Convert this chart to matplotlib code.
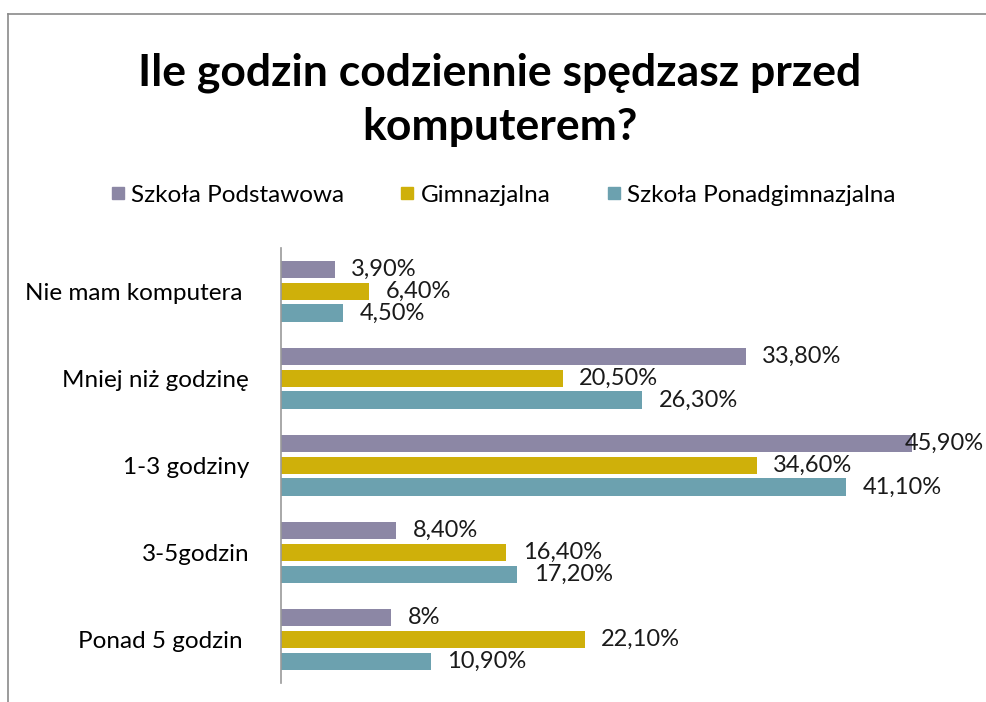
import matplotlib
matplotlib.use("Agg")
from matplotlib import pyplot as plt
from matplotlib.lines import Line2D
from matplotlib.transforms import blended_transform_factory
import numpy as np

plt.rcParams['font.family'] = ['Lato', 'DejaVu Sans']

# dane
kategorie = ["Nie mam komputera ", "Mniej niż godzinę", "1-3 godziny", "3-5godzin", "Ponad 5 godzin "]
serie = ["Szkoła Podstawowa", "Gimnazjalna", "Szkoła Ponadgimnazjalna"]
podstawowa = [3.9, 33.8, 45.9, 8.4, 8.0]
gimnazjum = [6.4, 20.5, 34.6, 16.4, 22.1]
ponadgimn = [4.5, 26.3, 41.1, 17.2, 10.9]
etykiety = [
    ["3,90%", "33,80%", "45,90%", "8,40%", "8%"],
    ["6,40%", "20,50%", "34,60%", "16,40%", "22,10%"],
    ["4,50%", "26,30%", "41,10%", "17,20%", "10,90%"],
]
kolory = ["#8C87A5", "#CFB00A", "#6CA1AF"]


def rysuj_wykres(plik="out.png"):
    fig = plt.figure(figsize=(9.86, 7.02), dpi=100)
    ax = fig.add_axes([0.285, 0.027, 0.697, 0.62])
    przy_krawedzi = blended_transform_factory(fig.transFigure, ax.transData)

    y = np.arange(len(kategorie))
    dane = [podstawowa, gimnazjum, ponadgimn]
    for i, (wart, kol) in enumerate(zip(dane, kolory)):
        pozycje = y + (i - 1) * 0.25
        ax.barh(pozycje, wart, height=0.2, color=kol, label=serie[i])
        for p, v, tekst in zip(pozycje, wart, etykiety[i]):
            if v + 1.2 < 45:
                ax.text(v + 1.2, p, tekst, va="center", ha="left", fontsize=17, color="#1a1a1a")
            else:
                # za malo miejsca - etykieta dosunieta do prawej krawedzi
                ax.text(0.998, p, tekst, va="center", ha="right", fontsize=17,
                        color="#1a1a1a", transform=przy_krawedzi, clip_on=False)

    ax.set_xlim(0, 50)
    ax.set_ylim(len(kategorie) - 0.5, -0.5)
    ax.set_yticks(y)
    ax.set_yticklabels(kategorie, fontsize=17.5)
    ax.tick_params(axis="y", length=0, pad=23)
    ax.set_xticks([])
    for s in ["top", "right", "bottom"]:
        ax.spines[s].set_visible(False)
    ax.spines["left"].set_color("#999999")
    ax.spines["left"].set_linewidth(1.2)

    fig.text(0.507, 0.858, "Ile godzin codziennie spędzasz przed\nkomputerem?",
             ha="center", va="center", fontsize=32, fontweight="bold", linespacing=1.45)

    uchwyty = [Line2D([], [], marker="s", linestyle="", markersize=8, color=k) for k in kolory]
    fig.legend(uchwyty, serie, loc="center", bbox_to_anchor=(0.51, 0.722), ncol=3,
               frameon=False, fontsize=17.5, handlelength=0.6, handletextpad=0.25,
               columnspacing=2.3)

    # ramka obszaru wykresu
    fig.add_artist(Line2D([8 / 986, 1], [1 - 14 / 702] * 2, color="#8a8a8a", lw=1.2))
    fig.add_artist(Line2D([8 / 986] * 2, [0, 1 - 14 / 702], color="#8a8a8a", lw=1.2))

    fig.savefig(plik, dpi=100)


rysuj_wykres()
